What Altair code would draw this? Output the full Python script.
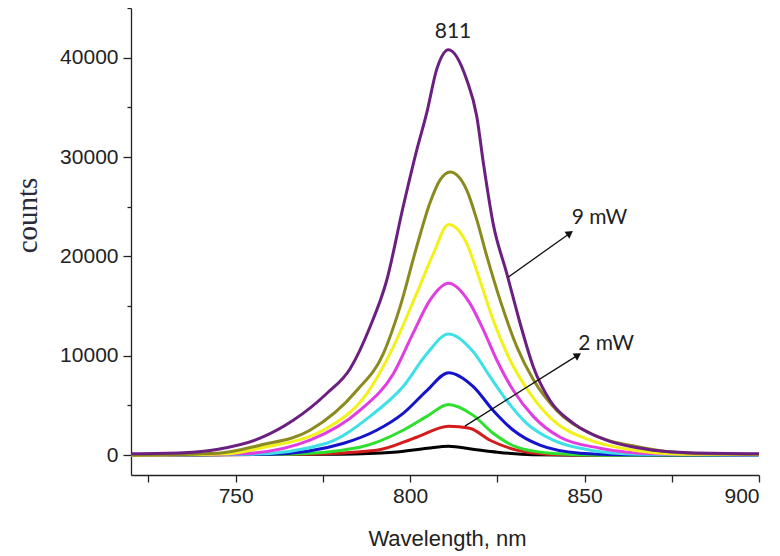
import altair as alt
import pandas as pd

# ---- data ----
series_names = ["0.1 mW", "2 mW", "3 mW", "4 mW", "5 mW", "6 mW", "7 mW", "8 mW", "9 mW"]
series_colors = ["#000000", "#d41c1c", "#2ee02e", "#1414cc", "#3ee0e8", "#e03ee0", "#f2f21a", "#8a8a1e", "#6b1f80"]

black_x = [720, 780, 795.2, 805, 811, 818, 825, 835, 850, 900]
black_y = [0, 100, 300, 700, 900, 600, 300, 50, 0, 0]

red_x = [720, 770, 790.4, 801.9, 811, 817.1, 822.9, 830.6, 839, 855, 900]
red_y = [0, 100, 500, 1800, 2900, 2700, 1500, 500, 100, 0, 0]

green_x = [720, 765, 785.6, 798, 804.8, 811, 818.1, 823.8, 830.6, 840.1, 855, 900]
green_y = [0, 100, 800, 2500, 3900, 5100, 4000, 2200, 800, 200, 0, 0]

blue_x = [720, 760, 781, 790.4, 798, 804.8, 811, 818.1, 823.8, 829.6, 837.2, 848.7, 860, 900]
blue_y = [0, 100, 1200, 2500, 4200, 6500, 8300, 6900, 4500, 2500, 1000, 200, 50, 0]

cyan_x = [720, 755, 776.1, 788.5, 798, 804.8, 811, 818.1, 822.9, 827.7, 833.4, 841, 851.6, 865, 900]
cyan_y = [0, 100, 1200, 3900, 6900, 10200, 12200, 10400, 7900, 5500, 3200, 1500, 500, 100, 0]

magenta_x = [720, 752, 771.3, 785.6, 795.2, 800.9, 805.7, 811, 817.1, 821, 824.8, 829.6, 835.3, 843, 854.4, 870, 900]
magenta_y = [0, 150, 1500, 4500, 8200, 12300, 15600, 17300, 15300, 12600, 9600, 6500, 3900, 1800, 700, 150, 50]

yellow_x = [720, 748, 757, 776.1, 787.6, 795.2, 801.9, 806.7, 811, 816.2, 820, 823.8, 828.6, 834.4, 841, 851.6, 864, 878, 900]
yellow_y = [0, 150, 700, 2700, 6200, 10900, 16300, 20300, 23200, 21300, 17600, 13600, 9600, 6200, 3500, 1500, 500, 100, 50]

olive_x = [720, 745, 757, 771.3, 784.7, 792.3, 797.1, 801.9, 805.7, 808.6, 811.5, 816.2, 819.1, 822, 825.8, 830.6, 835.3, 842, 851.6, 865.9, 880, 900]
olive_y = [0, 200, 1000, 2500, 6500, 10200, 14900, 21000, 25400, 27700, 28500, 26700, 23700, 20000, 15600, 10900, 7600, 4500, 2200, 800, 200, 100]

purple_x = [720, 735, 745, 757, 766.5, 776.1, 782.8, 788.5, 793.3, 798, 801.9, 804.8, 807.6, 811, 816.2, 819.1, 821, 823.8, 827.7, 831.5, 835.3, 840.1, 846.8, 856.3, 869.7, 880, 900]
purple_y = [150, 250, 600, 1700, 3500, 6200, 8700, 12900, 17600, 25000, 30700, 34500, 38800, 40800, 37800, 34100, 29400, 23300, 18300, 13300, 8900, 5500, 3200, 1500, 500, 250, 150]

all_x = [black_x, red_x, green_x, blue_x, cyan_x, magenta_x, yellow_x, olive_x, purple_x]
all_y = [black_y, red_y, green_y, blue_y, cyan_y, magenta_y, yellow_y, olive_y, purple_y]

# annotations
label_texts = ["811", "9 mW", "2 mW"]
label_x = [812.3, 846.3, 848.2]
label_y = [42540, 23900, 11170]
label_align = ["center", "left", "left"]

arrow_names = ["9 mW", "2 mW"]
arrow_x0 = [828.1, 815.7]
arrow_y0 = [17900, 2920]
arrow_x1 = [845.8, 848.1]
arrow_y1 = [22340, 10060]
arrow_angles = [325, 328]

x_ticks = [725, 750, 775, 800, 825, 850, 875, 900]
y_ticks = [0, 5000, 10000, 15000, 20000, 25000, 30000, 35000, 40000, 45000]

# ---- build tables ----
rows = []
for order, (name, xs, ys) in enumerate(zip(series_names, all_x, all_y)):
    for a, b in zip(xs, ys):
        rows.append({"series": name, "order": order, "wl": a, "counts": b})
df = pd.DataFrame(rows)

xscale = alt.Scale(domain=[720, 900], nice=False, zero=False)
yscale = alt.Scale(domain=[-2000, 45000], nice=False, zero=False)

xaxis = alt.Axis(
    values=x_ticks,
    labelExpr="datum.value % 50 === 0 ? datum.label : ''",
    format="d",
    grid=False,
    domainColor="#222",
    domainWidth=1.3,
    tickColor="#222",
    tickWidth=1.3,
    tickSize=7,
    labelFont="Liberation Sans",
    labelFontSize=21,
    labelColor="#222",
    labelPadding=3,
    title="Wavelength, nm",
    titleFont="Liberation Sans",
    titleFontSize=22,
    titleFontWeight="normal",
    titleColor="#222",
    titleX=316,
    titleY=63,
    titleAlign="center",
    titleBaseline="middle",
)
yaxis = alt.Axis(
    values=y_ticks,
    labelExpr="datum.value % 10000 === 0 ? datum.label : ''",
    format="d",
    grid=False,
    domainColor="#222",
    domainWidth=1.3,
    tickColor="#222",
    tickWidth=1.3,
    tickSize={"condition": {"test": "datum.value % 10000 === 0", "value": 8}, "value": 4},
    labelFont="Liberation Sans",
    labelFontSize=21,
    labelColor="#222",
    labelPadding=5,
    title="counts",
    titleFont="Liberation Serif",
    titleFontSize=29,
    titleFontWeight="normal",
    titleColor="#2a2a3a",
    titleX=-104,
    titleY=207,
    titleAngle=-90,
    titleAlign="center",
    titleBaseline="middle",
)

lines = alt.Chart(df).mark_line(interpolate="monotone", strokeWidth=3).encode(
    x=alt.X("wl:Q", scale=xscale, axis=xaxis),
    y=alt.Y("counts:Q", scale=yscale, axis=yaxis),
    color=alt.Color("series:N", scale=alt.Scale(domain=series_names, range=series_colors), legend=None),
    detail="series:N",
    order=alt.Order("wl:Q"),
)

lab_df = pd.DataFrame({"t": label_texts, "x": label_x, "y": label_y, "a": label_align})
labels_c = alt.Chart(lab_df[lab_df.a == "center"]).mark_text(
    font="Lato", fontSize=21, color="#222", align="center", baseline="middle"
).encode(x=alt.X("x:Q", scale=xscale), y=alt.Y("y:Q", scale=yscale), text="t:N")
labels_l = alt.Chart(lab_df[lab_df.a == "left"]).mark_text(
    font="Lato", fontSize=21, color="#222", align="left", baseline="middle"
).encode(x=alt.X("x:Q", scale=xscale), y=alt.Y("y:Q", scale=yscale), text="t:N")

arr_rows = []
for n, x0, y0, x1, y1 in zip(arrow_names, arrow_x0, arrow_y0, arrow_x1, arrow_y1):
    arr_rows.append({"n": n, "x": x0, "y": y0, "k": 0})
    arr_rows.append({"n": n, "x": x1, "y": y1, "k": 1})
arr_df = pd.DataFrame(arr_rows)
shafts = alt.Chart(arr_df).mark_line(color="#111", strokeWidth=1.3).encode(
    x=alt.X("x:Q", scale=xscale), y=alt.Y("y:Q", scale=yscale), detail="n:N", order="k:Q"
)
heads = []
for n, x1, y1, ang in zip(arrow_names, arrow_x1, arrow_y1, arrow_angles):
    hd = pd.DataFrame({"x": [x1], "y": [y1]})
    heads.append(
        alt.Chart(hd).mark_point(shape="triangle-right", filled=True, size=70, color="#111", angle=ang, opacity=1).encode(
            x=alt.X("x:Q", scale=xscale), y=alt.Y("y:Q", scale=yscale)
        )
    )

chart = alt.layer(lines, shafts, *heads, labels_c, labels_l).properties(
    width=628,
    height=467,
    autosize=alt.AutoSizeParams(type="none"),
    padding={"left": 123, "top": 0, "right": 13, "bottom": 80},
    background="white",
).configure_view(stroke=None)

chart.save("out.html", embed_options={"renderer": "svg", "actions": False})
